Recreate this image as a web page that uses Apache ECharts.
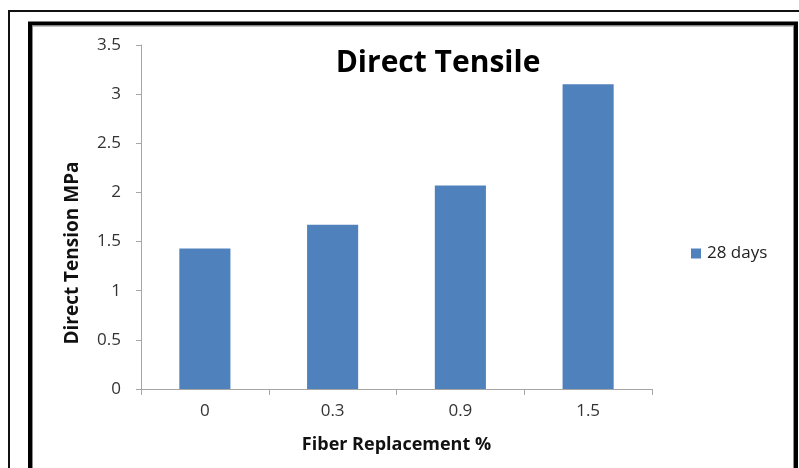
<!DOCTYPE html>
<html>
<head>
<meta charset="utf-8">
<script src="https://cdn.jsdelivr.net/npm/echarts@6/dist/echarts.min.js"></script>
<style>
html,body{margin:0;padding:0;background:#fff;}
#chart{width:799px;height:468px;}
</style>
</head>
<body>
<div id="chart"></div>
<script>
const categories = ['0', '0.3', '0.9', '1.5'];
const values28 = [1.43, 1.67, 2.07, 3.1];
const seriesName = '28 days';
const yTicks = { min: 0, max: 3.5, interval: 0.5 };

const chart = echarts.init(document.getElementById('chart'));
const FONT = 'Open Sans';
chart.setOption({
  animation: false,
  backgroundColor: '#ffffff',
  title: {
    text: 'Direct Tensile',
    left: 433,
    top: 43,
    textAlign: 'center',
    textStyle: { fontFamily: FONT, fontWeight: 'bold', fontSize: 30, color: '#000' }
  },
  legend: {
    data: [seriesName],
    left: 686,
    top: 240,
    icon: 'rect',
    itemWidth: 10,
    itemHeight: 10,
    itemGap: 6,
    textStyle: { fontFamily: FONT, fontSize: 17, color: '#222', padding: [0, 0, 0, 1] }
  },
  grid: { left: 141, right: 147, top: 45, bottom: 79 },
  xAxis: {
    type: 'category',
    data: categories,
    axisLine: { lineStyle: { color: '#a6a6a6', width: 1 } },
    axisTick: { show: true, alignWithLabel: false, length: 6, lineStyle: { color: '#a6a6a6' } },
    axisLabel: { margin: 14, fontFamily: FONT, fontSize: 17, color: '#333' },
    name: 'Fiber Replacement %',
    nameLocation: 'middle',
    nameGap: 47,
    nameTextStyle: { fontFamily: FONT, fontWeight: 'bold', fontSize: 18, color: '#111' }
  },
  yAxis: {
    type: 'value',
    min: yTicks.min,
    max: yTicks.max,
    interval: yTicks.interval,
    axisLine: { show: true, lineStyle: { color: '#a6a6a6', width: 1 } },
    axisTick: { show: true, length: 5, lineStyle: { color: '#a6a6a6' } },
    splitLine: { show: false },
    axisLabel: { margin: 20, fontFamily: FONT, fontSize: 17, color: '#333' }
  },
  graphic: [
    { type: 'rect', shape: { x: 9, y: 11, width: 800, height: 470 }, style: { fill: 'none', stroke: '#111', lineWidth: 2 }, silent: true },
    { type: 'rect', shape: { x: 30, y: 23.5, width: 766, height: 460 }, style: { fill: 'none', stroke: '#000', lineWidth: 4 }, silent: true },
    { type: 'rect', shape: { x: 32.5, y: 26, width: 761, height: 460 }, style: { fill: 'none', stroke: '#8c8c8c', lineWidth: 1 }, silent: true },
    { type: 'text', x: 73, y: 253, rotation: Math.PI / 2,
      style: { text: 'Direct Tension MPa', fontFamily: FONT, fontWeight: 'bold', fontSize: 19, fill: '#111', textAlign: 'center', textVerticalAlign: 'middle' } }
  ],
  series: [{
    name: seriesName,
    type: 'bar',
    data: values28,
    barWidth: '40%',
    itemStyle: { color: '#4f81bd' }
  }]
});
</script>
</body>
</html>
